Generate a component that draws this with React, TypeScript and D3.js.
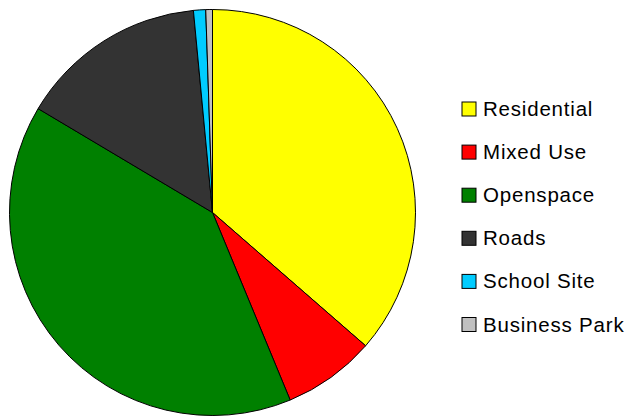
import * as d3 from 'd3';
import React from 'react';

const categories = ['Residential', 'Mixed Use', 'Openspace', 'Roads', 'School Site', 'Business Park'];
const values = [36.4, 7.35, 39.8, 14.95, 0.97, 0.53];
const colors = ['#ffff00', '#ff0000', '#008000', '#333333', '#00ccff', '#c0c0c0'];

const App: React.FC = () => {
  const width = 631;
  const height = 417;
  const cx = 212.5;
  const cy = 212.5;
  const radius = 203;

  const pie = d3
    .pie<number>()
    .sort(null)
    .value((d) => d);
  const arcs = pie(values);
  const arc = d3.arc<d3.PieArcDatum<number>>().innerRadius(0).outerRadius(radius);

  const legendX = 462;
  const legendY = d3.scalePoint<string>().domain(categories).range([109, 324.5]);
  const box = 14;

  return (
    <svg
      width={width}
      height={height}
      style={{ position: 'absolute', left: 0, top: 0, background: '#fff' }}
    >
      <g transform={`translate(${cx},${cy})`}>
        {arcs.map((a, i) => (
          <path key={i} d={arc(a) || ''} fill={colors[i]} stroke="#000" strokeWidth={1} />
        ))}
      </g>
      <g fontFamily="'Liberation Sans', Arial, sans-serif" fontSize={20.5} letterSpacing={0.8}>
        {categories.map((c, i) => (
          <g key={c}>
            <rect
              x={legendX}
              y={legendY(c)! - box / 2}
              width={box}
              height={box}
              fill={colors[i]}
              stroke="#000"
              strokeWidth={1}
            />
            <text x={legendX + 21} y={legendY(c)! + box / 2} fill="#000">
              {c}
            </text>
          </g>
        ))}
      </g>
    </svg>
  );
};

export default App;
